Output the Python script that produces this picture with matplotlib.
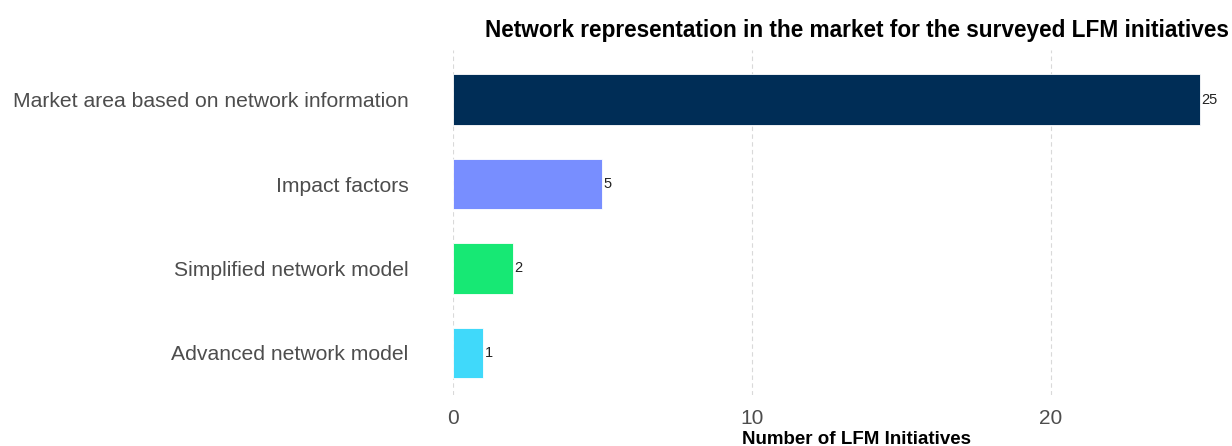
import matplotlib.pyplot as plt

plt.rcParams['font.family'] = ['Liberation Sans', 'DejaVu Sans']

# Data
categories = ['Market area based on network information', 'Impact factors',
              'Simplified network model', 'Advanced network model']
counts = [25, 5, 2, 1]
colors = ['#002D56', '#788EFF', '#17E874', '#40D9FA']

fig = plt.figure(figsize=(12.32, 4.46), dpi=100)
ax = fig.add_axes([0.3677, 0.1143, 0.6258, 0.7736])

y = range(len(categories))
ax.barh(y, counts, height=0.6, color=colors, edgecolor='white', linewidth=0.6, zorder=2)
for i, v in zip(y, counts):
    ax.text(v + 0.05, i, str(v), va='center', ha='left', fontsize=10.5, color='#222222')

ax.set_yticks(list(y))
ax.set_yticklabels(categories)
ax.set_ylim(3.5, -0.59)
ax.set_xlim(0, 25.8)
ax.set_xticks([0, 10, 20])

ax.tick_params(axis='y', length=0, pad=32, labelsize=15.2, labelcolor='#4d4d4d')
ax.tick_params(axis='x', length=0, pad=10, labelsize=15, labelcolor='#4d4d4d')
ax.grid(axis='x', linestyle=(0, (4, 3)), color='#d9d9d9', linewidth=0.8, zorder=0)
for s in ax.spines.values():
    s.set_visible(False)

fig.text(857 / 1232, 1 - 30 / 446, 'Network representation in the market for the surveyed LFM initiatives',
         ha='center', va='center', fontsize=16.3, fontweight='bold')
fig.text(857 / 1232, 1 - 439 / 446, 'Number of LFM Initiatives',
         ha='center', va='center', fontsize=13.5, fontweight='bold')

fig.savefig('out.png', dpi=100)
